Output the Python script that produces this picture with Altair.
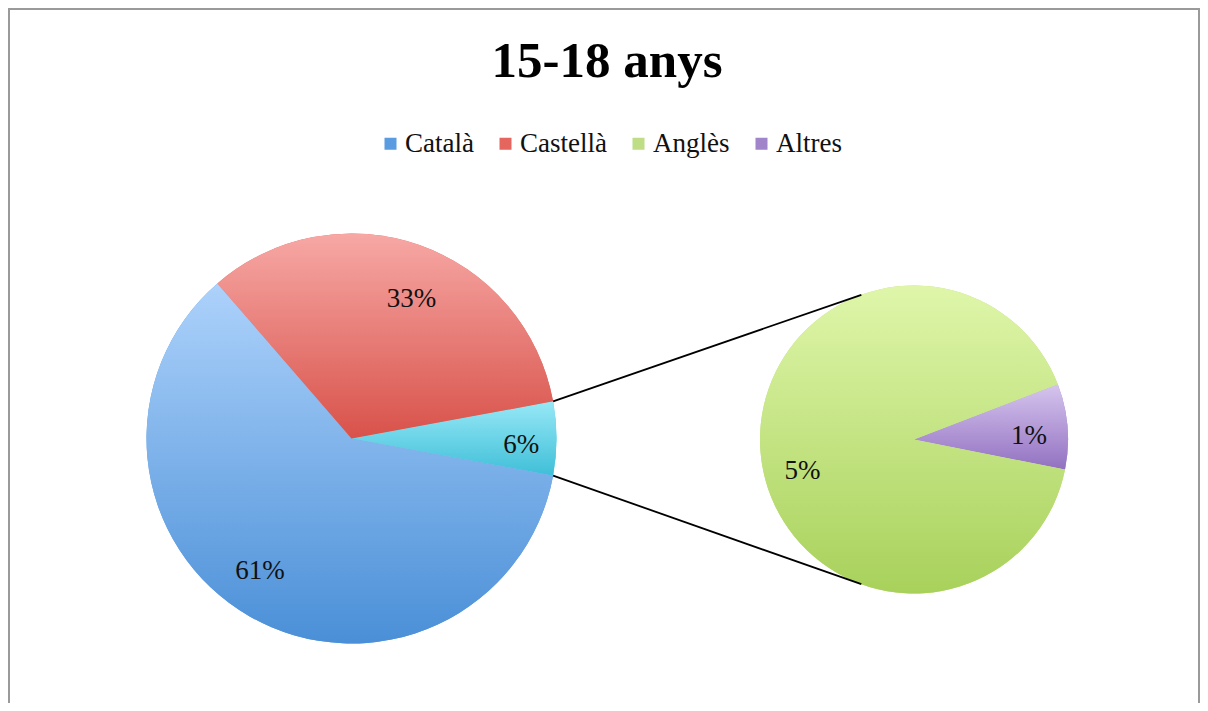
import math
import altair as alt
import pandas as pd

# ---------------- data ----------------
TITLE = "15-18 anys"
languages = ["Català", "Castellà", "Anglès", "Altres"]
shares = [60.75, 33.45, 5.28, 0.52]
GROUP = "Resta"                       # combined slice (Anglès + Altres) in the first pie
main_order = [GROUP, "Català", "Castellà"]
second_order = ["Altres", "Anglès"]

share = dict(zip(languages, shares))
share[GROUP] = share["Anglès"] + share["Altres"]


def pct(v):
    return f"{int(math.floor(v + 0.5))}%"


def stacked(order):
    rows, acc = [], 0.0
    for c in order:
        v = share[c]
        rows.append(dict(llengua=c, valor=v, start=acc, end=acc + v,
                         mid=acc + v / 2, label=pct(v)))
        acc += v
    return pd.DataFrame(rows)


main_df = stacked(main_order)
second_df = stacked(second_order)

# ---------------- layout / style ----------------
W, H = 1192, 695
L_CX, L_CY, L_R = 343.5, 430.5, 205
R_CX, R_CY, R_R = 906, 431.5, 154
TAU = 2 * math.pi

main_total = float(main_df["valor"].sum())
second_total = float(second_df["valor"].sum())
l0 = math.pi / 2 - math.pi * share[GROUP] / main_total
r0 = math.radians(69)
main_scale = alt.Scale(domain=[0, main_total], range=[l0, l0 + TAU])
second_scale = alt.Scale(domain=[0, second_total], range=[r0, r0 + TAU])

SOLID = {"Català": "#5b9be0", "Castellà": "#e4665f", "Anglès": "#bfdd84",
         "Altres": "#a185cb", GROUP: "#5fcde3"}
GRAD = {
    "Català": ("#add2fb", "#4a8fd7"),
    "Castellà": ("#f7a8a5", "#d8524a"),
    GROUP: ("#97e8f6", "#3fbfd8"),
    "Anglès": ("#dff6aa", "#a8d15b"),
    "Altres": ("#d6c5ee", "#9271c1"),
}
# label placement ("best fit"): radius in px, angular shift in degrees from slice middle
LABEL_POS = {GROUP: (170, 2.3), "Català": (161, 4.8), "Castellà": (151.5, 4.0),
             "Anglès": (116, -11.0), "Altres": (115, 3.1)}
FONT = "Liberation Serif"


def gradient(cat):
    top, bottom = GRAD[cat]
    return alt.LinearGradient(
        gradient="linear",
        stops=[alt.GradientStop(offset=0, color=top),
               alt.GradientStop(offset=1, color=bottom)],
        x1=0, x2=0, y1=0, y2=1)


color = alt.Color(
    "llengua:N",
    scale=alt.Scale(domain=list(SOLID.keys()), range=list(SOLID.values())),
    legend=alt.Legend(
        title=None, orient="none", legendX=369, legendY=122,
        direction="horizontal", values=languages,
        symbolType="square", symbolSize=144, symbolStrokeWidth=0,
        symbolOpacity=1, labelFont=FONT, labelFontSize=27,
        labelColor="#111111", labelOffset=1, columnPadding=18, padding=0),
)

layers = []
pies = [(main_df, main_scale, L_CX, L_CY, L_R, main_total),
        (second_df, second_scale, R_CX, R_CY, R_R, second_total)]
# solid base pies (carry the legend)
for df, sc, cx, cy, r, tot in pies:
    layers.append(
        alt.Chart(df).mark_arc(x=cx, y=cy, radius=r).encode(
            theta=alt.Theta("start:Q", scale=sc), theta2="end:Q", color=color))

# gradient slices + labels
for df, sc, cx, cy, r, tot in pies:
    for cat in df["llengua"]:
        base = alt.Chart(df).transform_filter(alt.datum.llengua == cat)
        layers.append(
            base.mark_arc(x=cx, y=cy, radius=r, fill=gradient(cat)).encode(
                theta=alt.Theta("start:Q", scale=sc), theta2="end:Q"))
        lr, shift = LABEL_POS[cat]
        layers.append(
            base.transform_calculate(lt=f"datum.mid + {shift / 360 * tot}")
            .mark_text(x=cx, y=cy, radius=lr, font=FONT, fontSize=27,
                       color="#111111", align="center", baseline="middle")
            .encode(theta=alt.Theta("lt:Q", scale=sc), text="label:N"))

# connector lines from the grouped slice to the second pie
a_top = l0
a_bot = l0 + TAU * share[GROUP] / main_total
b_top = math.radians(340)
b_bot = math.radians(200)
conn = pd.DataFrame([
    dict(x=L_CX + L_R * math.sin(a_top), y=L_CY - L_R * math.cos(a_top),
         x2=R_CX + R_R * math.sin(b_top), y2=R_CY - R_R * math.cos(b_top)),
    dict(x=L_CX + L_R * math.sin(a_bot), y=L_CY - L_R * math.cos(a_bot),
         x2=R_CX + R_R * math.sin(b_bot), y2=R_CY - R_R * math.cos(b_bot)),
])
layers.append(
    alt.Chart(conn).mark_rule(color="#000000", strokeWidth=1.8).encode(
        x=alt.X("x:Q", scale=None, axis=None),
        y=alt.Y("y:Q", scale=None, axis=None),
        x2="x2:Q", y2="y2:Q"))

# frame (left, top, right)
one = alt.Data(values=[{"k": 1}])
frame_style = dict(color="#9a9a9a", strokeWidth=2)
layers.append(alt.Chart(one).mark_rule(**frame_style).encode(
    x=alt.value(1), y=alt.value(0), y2=alt.value(H)))
layers.append(alt.Chart(one).mark_rule(**frame_style).encode(
    x=alt.value(0), x2=alt.value(W), y=alt.value(1)))
layers.append(alt.Chart(one).mark_rule(**frame_style).encode(
    x=alt.value(W - 1), y=alt.value(0), y2=alt.value(H)))

chart = alt.layer(*layers).resolve_scale(theta="independent").properties(
    width=W, height=H, padding=0, autosize="none",
    title=alt.TitleParams(text=TITLE, font=FONT, fontSize=51, fontWeight="bold",
                          color="#000000", anchor="middle", offset=-121,
                          baseline="alphabetic", dx=3),
).configure_view(strokeWidth=0).configure(background="white")

chart.save("out.html", embed_options={"renderer": "svg", "actions": False})
